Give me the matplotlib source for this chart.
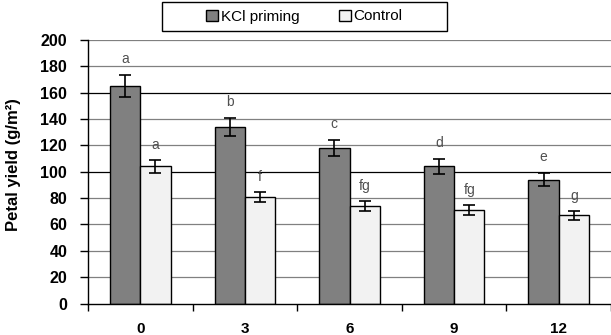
import matplotlib
matplotlib.use("Agg")
import matplotlib.pyplot as plt
import numpy as np
from matplotlib.patches import Rectangle

plt.rcParams['font.family'] = ['Liberation Sans', 'DejaVu Sans']

categories = ["0", "3", "6", "9", "12"]
kcl_values = [165, 134, 118, 104, 94]
kcl_errors = [8.5, 7, 6, 5.5, 5]
control_values = [104, 81, 74, 71, 67]
control_errors = [5, 4, 4, 4, 3.5]
kcl_letters = ["a", "b", "c", "d", "e"]
control_letters = ["a", "f", "fg", "fg", "g"]
yticks = [0, 20, 40, 60, 80, 100, 120, 140, 160, 180, 200]

W, H = 611, 335
fig = plt.figure(figsize=(W / 100, H / 100), dpi=100)
ax = fig.add_axes([88 / W, (H - 303.5) / H, (611 - 88) / W, 263.5 / H])

x = np.arange(len(categories))
bw = 0.29
off = 0.145

# gridlines
for yv in yticks[1:]:
    col = '#000000' if yv in (100, 160) else '#808080'
    ax.axhline(yv, color=col, lw=0.9, zorder=0)

b1 = ax.bar(x - off, kcl_values, bw, color='#808080', edgecolor='black',
            linewidth=1.0, zorder=2, label='KCl priming')
b2 = ax.bar(x + off, control_values, bw, color='#f2f2f2', edgecolor='black',
            linewidth=1.0, zorder=2, label='Control')
ax.errorbar(x - off, kcl_values, yerr=kcl_errors, fmt='none', ecolor='black',
            elinewidth=1.2, capsize=4, capthick=1.2, zorder=3)
ax.errorbar(x + off, control_values, yerr=control_errors, fmt='none', ecolor='black',
            elinewidth=1.2, capsize=4, capthick=1.2, zorder=3)

for i in range(len(categories)):
    ax.text(x[i] - off, kcl_values[i] + kcl_errors[i] + 7, kcl_letters[i],
            ha='center', va='bottom', fontsize=10, color='#505050')
    ax.text(x[i] + off, control_values[i] + control_errors[i] + 6, control_letters[i],
            ha='center', va='bottom', fontsize=10, color='#505050')

ax.set_xlim(-0.5, len(categories) - 0.5)
ax.set_ylim(0, 200)
ax.set_yticks(yticks)
ax.set_yticklabels([str(v) for v in yticks], fontsize=11.5, fontweight='bold')
ax.set_xticks(x)
ax.set_xticklabels(categories, fontsize=11, fontweight='bold')
ax.tick_params(axis='x', length=0, pad=13)
ax.set_xticks(np.arange(-0.5, len(categories)), minor=True)
ax.tick_params(axis='x', which='minor', length=5, width=1, direction='out')
ax.tick_params(axis='y', length=6, width=1, direction='out', pad=9)

for s in ['top', 'right']:
    ax.spines[s].set_visible(False)
for s in ['left', 'bottom']:
    ax.spines[s].set_linewidth(1.0)
    ax.spines[s].set_color('black')

fig.text(14 / W, 1 - 165 / H, 'Petal yield (g/m²)', rotation=90, ha='center',
         va='center', fontsize=12, fontweight='bold')

# legend box
fig.patches.append(Rectangle((162 / W, (H - 31) / H), (447 - 162) / W, 29 / H,
                             transform=fig.transFigure, facecolor='white',
                             edgecolor='black', linewidth=1.0, zorder=0))
fig.legend(handles=[b1, b2], loc='center', bbox_to_anchor=(304.5 / W, 1 - 16.5 / H),
           ncol=2, frameon=False, fontsize=11, handlelength=0.75, handleheight=0.75,
           handletextpad=0.2, columnspacing=2.6)

fig.savefig('out.png', dpi=100)
